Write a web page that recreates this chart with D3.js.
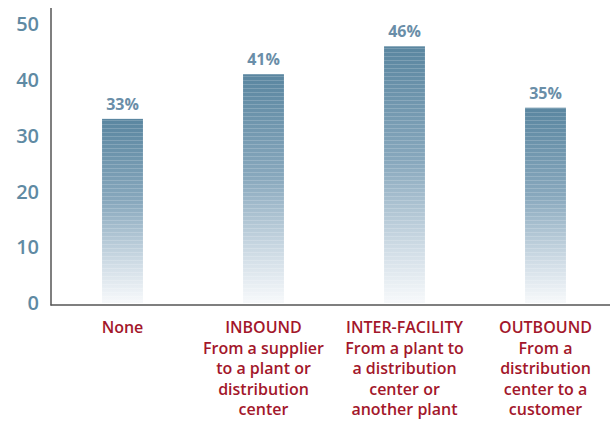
<!DOCTYPE html>
<html>
<head>
<meta charset="utf-8">
<script src="https://cdn.jsdelivr.net/npm/d3@7"></script>
<style>
  body { margin: 0; background: #fff; }
  text { font-family: "Open Sans", "Noto Sans", sans-serif; }
  .tick-label { fill: #5f8aa3; font-size: 20px; font-weight: 600; }
  .value { fill: #6a8ea8; font-size: 16px; font-weight: 700; }
  .cat { fill: #a3172b; font-size: 16px; font-weight: 600; }
</style>
</head>
<body>
<svg></svg>
<script>
// Chart data
const categories = ["None", "INBOUND", "INTER-FACILITY", "OUTBOUND"];
const subLabels = [
  [],
  ["From a supplier", "to a plant or", "distribution", "center"],
  ["From a plant to", "a distribution", "center or", "another plant"],
  ["From a", "distribution", "center to a", "customer"]
];
const values = [33, 41, 46, 35];
const yTicks = [0, 10, 20, 30, 40, 50];

const width = 610, height = 423;
const svg = d3.select("svg").attr("width", width).attr("height", height);

// Scales
const x = d3.scaleBand()
  .domain(categories)
  .range([52, 616])
  .paddingInner(0.71)
  .paddingOuter(0.355);

const y = d3.scaleLinear().domain([0, 50]).range([303, 24]);

// Striped gradient fill for the bars
const defs = svg.append("defs");
const grad = defs.append("linearGradient")
  .attr("id", "barGrad")
  .attr("x1", 0).attr("y1", 0).attr("x2", 0).attr("y2", 1);
grad.append("stop").attr("offset", "0%").attr("stop-color", "#5a86a0");
grad.append("stop").attr("offset", "45%").attr("stop-color", "#88a8bd");
grad.append("stop").attr("offset", "80%").attr("stop-color", "#d2dee7");
grad.append("stop").attr("offset", "100%").attr("stop-color", "#f7f9fb");

const stripes = defs.append("pattern")
  .attr("id", "stripes")
  .attr("patternUnits", "userSpaceOnUse")
  .attr("width", 10).attr("height", 4);
stripes.append("rect")
  .attr("x", 0).attr("y", 0).attr("width", 10).attr("height", 1)
  .attr("fill", "#fff").attr("opacity", 0.18);

// Bars
const bars = svg.append("g")
  .selectAll("g.bar")
  .data(values)
  .enter()
  .append("g")
  .attr("class", "bar");

bars.append("rect")
  .attr("x", (d, i) => x(categories[i]))
  .attr("y", d => y(d))
  .attr("width", x.bandwidth())
  .attr("height", d => y(0) - y(d))
  .attr("fill", "url(#barGrad)");

bars.append("rect")
  .attr("x", (d, i) => x(categories[i]))
  .attr("y", d => y(d))
  .attr("width", x.bandwidth())
  .attr("height", d => y(0) - y(d))
  .attr("fill", "url(#stripes)");

// Value labels on top of bars
bars.append("text")
  .attr("class", "value")
  .attr("x", (d, i) => x(categories[i]) + x.bandwidth() / 2)
  .attr("y", d => y(d) - 9)
  .attr("text-anchor", "middle")
  .text(d => d + "%");

// Y axis labels
svg.append("g")
  .selectAll("text")
  .data(yTicks)
  .enter()
  .append("text")
  .attr("class", "tick-label")
  .attr("x", 39)
  .attr("y", d => y(d))
  .attr("dy", "0.36em")
  .attr("text-anchor", "end")
  .text(d => d);

// Axis lines
svg.append("line")
  .attr("x1", 51).attr("x2", 51)
  .attr("y1", 8).attr("y2", 305.5)
  .attr("stroke", "#555").attr("stroke-width", 1.5);
svg.append("line")
  .attr("x1", 50.5).attr("x2", 610)
  .attr("y1", 305).attr("y2", 305)
  .attr("stroke", "#555").attr("stroke-width", 1.5);

// Category labels
const cats = svg.append("g")
  .selectAll("text")
  .data(categories)
  .enter()
  .append("text")
  .attr("class", "cat")
  .attr("text-anchor", "middle")
  .attr("x", d => x(d) + x.bandwidth() / 2)
  .attr("y", 333);

cats.append("tspan").text(d => d);
cats.each(function (d, i) {
  const t = d3.select(this);
  subLabels[i].forEach(line => {
    t.append("tspan")
      .attr("x", x(d) + x.bandwidth() / 2)
      .attr("dy", 20.5)
      .text(line);
  });
});
</script>
</body>
</html>
